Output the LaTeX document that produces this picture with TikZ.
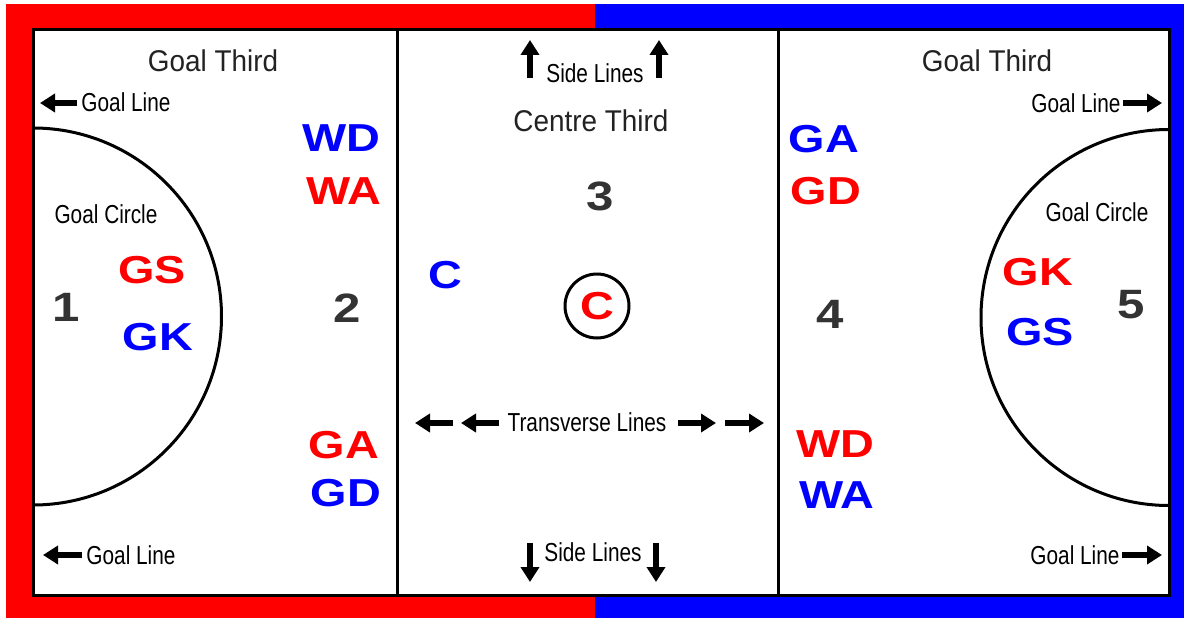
\documentclass[tikz,border=0pt]{standalone}
\usepackage{fontspec}
\setmainfont{Liberation Sans}
\newfontfamily\posfont[FakeStretch=1.2]{Liberation Sans}
\newfontfamily\labfont[FakeStretch=0.8]{Liberation Sans}
\newfontfamily\headfont[FakeStretch=0.93]{Liberation Sans}
\usetikzlibrary{arrows.meta}
\definecolor{cred}{RGB}{255,0,0}
\definecolor{cblue}{RGB}{0,0,255}
\definecolor{numgray}{RGB}{51,51,51}
\definecolor{headgray}{RGB}{34,34,34}
\tikzset{
  courtline/.style={draw=black,line width=3pt},
  playerpos/.style={inner sep=0pt,font=\posfont\bfseries\fontsize{39}{41}\selectfont},
  redpos/.style={playerpos,text=cred},
  bluepos/.style={playerpos,text=cblue},
  zonenum/.style={inner sep=0pt,text=numgray,font=\posfont\bfseries\fontsize{41}{43}\selectfont},
  lab/.style={inner sep=0pt,text=black,font=\labfont\fontsize{26}{28}\selectfont},
  head/.style={inner sep=0pt,text=headgray,font=\headfont\fontsize{30}{32}\selectfont},
  blockarrow/.style={line width=6.5pt,-{Triangle[length=15pt,width=18pt]}}
}
\begin{document}
\begin{tikzpicture}[x=1pt,y=-1pt]
\useasboundingbox (0,0) rectangle (1184,618);
% coloured frame
\fill[cred] (6,4) rectangle (595,618);
\fill[cblue] (595,4) rectangle (1184,618);
\fill[white] (33,30) rectangle (1169,595);
% goal circles (clipped to the court)
\begin{scope}
  \clip (33,30) rectangle (1169,595);
  \draw[courtline] (33,316.5) circle[radius=188.5pt];
  \draw[courtline] (1169,317.5) circle[radius=188pt];
\end{scope}
% court lines
\draw[courtline] (33,30) rectangle (1169,595);
\draw[courtline] (397,30) -- (397,595);
\draw[courtline] (778,30) -- (778,595);
% centre circle
\node[draw=black,line width=3pt,circle,minimum size=64pt,inner sep=0pt] (cc) at (597,306) {};
\node[redpos] (credc) at (597,306) {C};
% headings
\node[head] (gtl) at (213,61) {Goal Third};
\node[head] (ct) at (591,121) {Centre Third};
\node[head] (gtr) at (987,61) {Goal Third};
% labels
\node[lab] (gl1) at (126,102) {Goal Line};
\node[lab] (gl2) at (131,555) {Goal Line};
\node[lab] (gl3) at (1076,103) {Goal Line};
\node[lab] (gl4) at (1075,555) {Goal Line};
\node[lab] (gc1) at (106,214) {Goal Circle};
\node[lab] (gc2) at (1097,212) {Goal Circle};
\node[lab] (sl1) at (595,73) {Side Lines};
\node[lab] (sl2) at (593,552) {Side Lines};
\node[lab] (tl) at (587,422) {Transverse Lines};
% arrows
\draw[blockarrow] (77,103) -- (40,103);
\draw[blockarrow] (82,555) -- (43,555);
\draw[blockarrow] (1123,103) -- (1162,103);
\draw[blockarrow] (1122,555) -- (1162,555);
\draw[blockarrow] (530,78) -- (530,40);
\draw[blockarrow] (659,78) -- (659,40);
\draw[blockarrow] (530,543) -- (530,582);
\draw[blockarrow] (656,543) -- (656,582);
\draw[blockarrow] (453,423) -- (415,423);
\draw[blockarrow] (499,423) -- (461,423);
\draw[blockarrow] (678,423) -- (716,423);
\draw[blockarrow] (725,423) -- (764,423);
% zone numbers
\node[zonenum] (n1) at (66,307) {1};
\node[zonenum] (n2) at (347,308) {2};
\node[zonenum] (n3) at (600,196) {3};
\node[zonenum] (n4) at (830,314) {4};
\node[zonenum] (n5) at (1131,305) {5};
% positions
\node[bluepos] (wdl) at (341,138) {WD};
\node[redpos] (wal) at (344,191) {WA};
\node[redpos] (gsl) at (152,270) {GS};
\node[bluepos] (gkl) at (158,337) {GK};
\node[redpos] (gal) at (344,445) {GA};
\node[bluepos] (gdl) at (346,493) {GD};
\node[bluepos] (cbl) at (445,275) {C};
\node[bluepos] (gar) at (824,139) {GA};
\node[redpos] (gdr) at (826,191) {GD};
\node[redpos] (gkr) at (1038,272) {GK};
\node[bluepos] (gsr) at (1040,332) {GS};
\node[redpos] (wdr) at (835,444) {WD};
\node[bluepos] (war) at (837,495) {WA};
\end{tikzpicture}
\end{document}
